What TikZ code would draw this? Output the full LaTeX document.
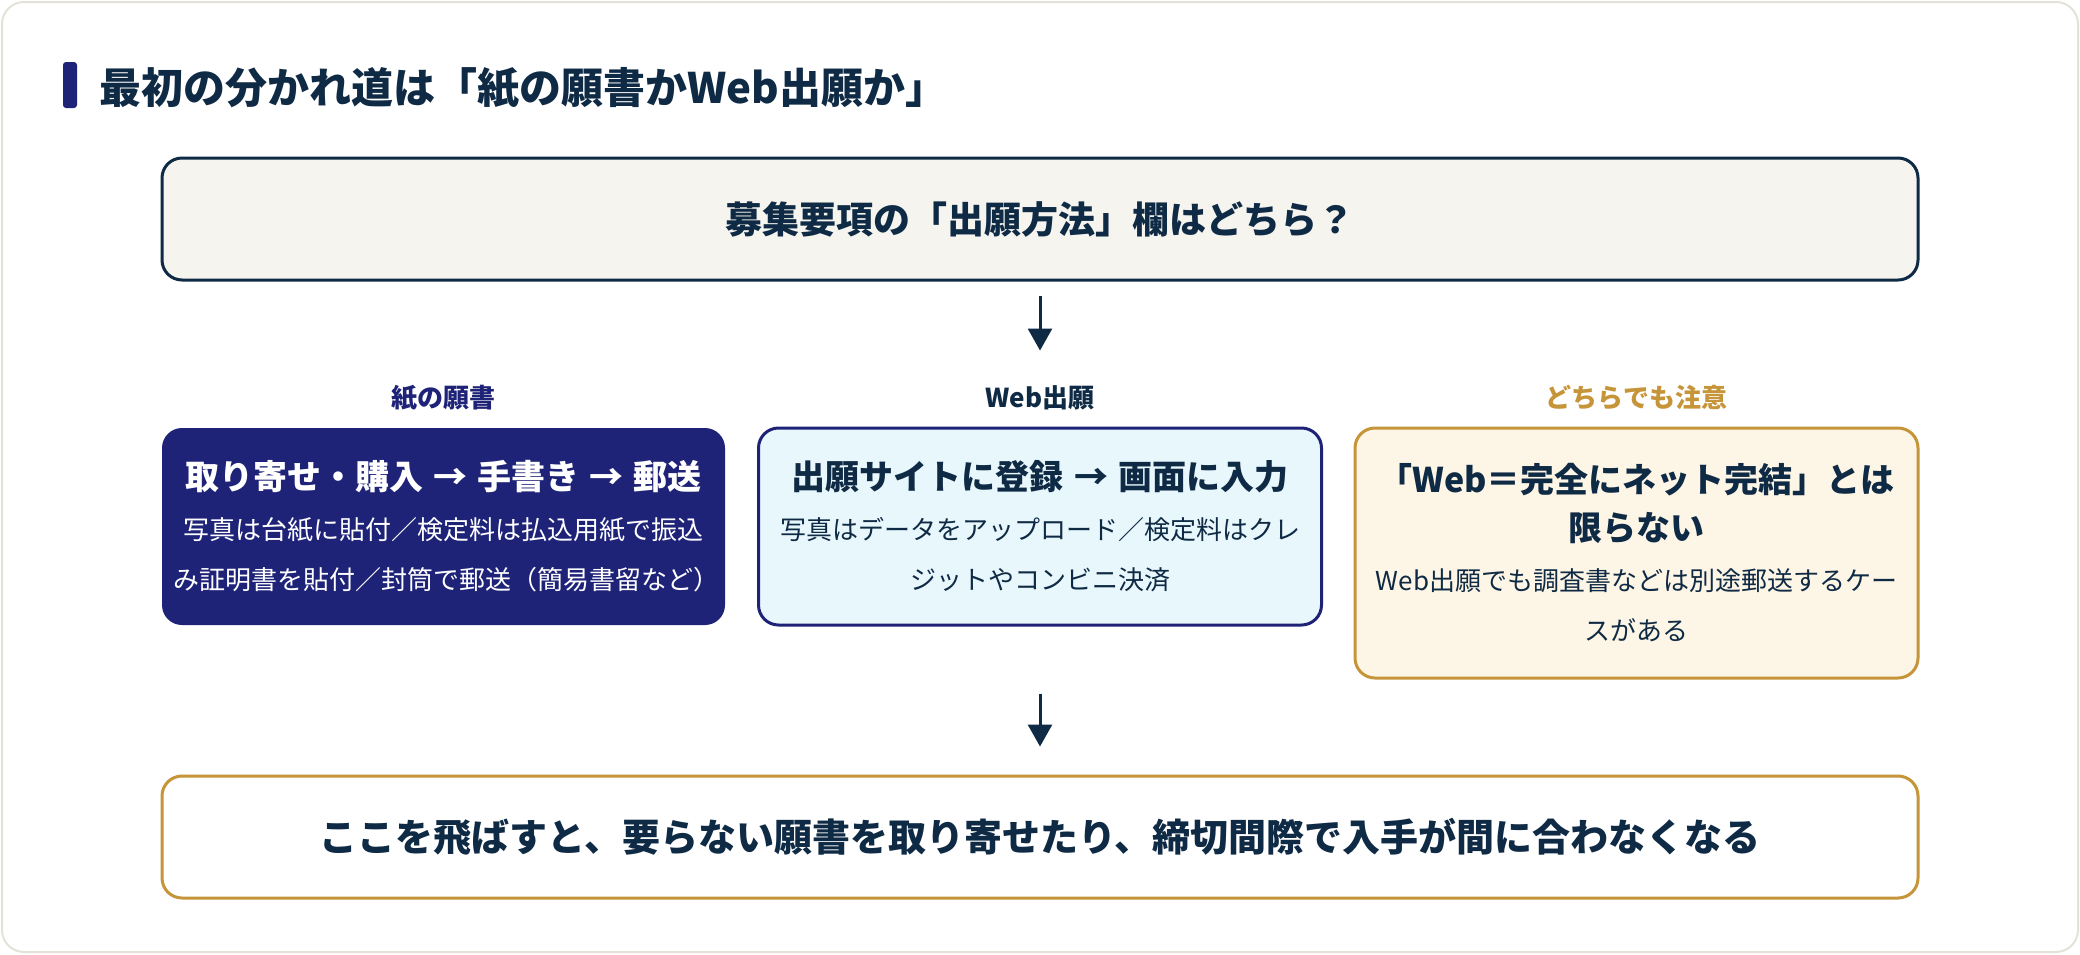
\documentclass[tikz,border=0pt]{standalone}
\usepackage{fontspec}
\setmainfont{Noto Sans CJK JP}
\usetikzlibrary{arrows.meta}
\definecolor{ink}{HTML}{0F2A44}
\definecolor{navy}{HTML}{1E2378}
\definecolor{gold}{HTML}{C6953A}
\definecolor{skyfill}{HTML}{E8F7FC}
\definecolor{creamfill}{HTML}{FDF5E5}
\definecolor{paperfill}{HTML}{F5F4EF}
\definecolor{cardline}{HTML}{E4E2D8}
\newcommand{\boxhead}{\fontsize{34}{48}\selectfont\bfseries}
\newcommand{\boxbody}{\fontsize{26}{50}\selectfont\mdseries}
\newcommand{\thento}{\hspace{0.3em}→\hspace{0.3em}}

\begin{document}
\begin{tikzpicture}[x=1pt,y=-1pt,
    box/.style={rounded corners=20pt, line width=3pt, align=center, inner sep=0pt},
    lbl/.style={inner sep=0pt, font=\fontsize{26}{30}\selectfont\bfseries},
    arr/.style={-{Triangle[length=22pt,width=24pt]}, line width=3pt, ink}]
    \useasboundingbox (0,0) rectangle (2080,954);
    \draw [cardline, line width=2pt, fill=white, rounded corners=22pt] (2,2) rectangle (2078,952);
    % heading
    \fill [navy, rounded corners=3pt] (63,62) rectangle (77,108);
    \node [anchor=west, inner sep=0pt, text=ink, font=\fontsize{42}{48}\selectfont\bfseries] (title) at (99,88) {最初の分かれ道は「紙の願書かWeb出願か」};
    \node [box, draw=ink, fill=paperfill, minimum width=1756pt, minimum height=122pt, text=ink,
        font=\fontsize{37}{44}\selectfont\bfseries] (ask) at (1040,219) {募集要項の「出願方法」欄はどちら？};
    % three columns
    \node [lbl, text=navy] (paperlbl) at (443.5,398) {紙の願書};
    \node [lbl, text=ink] (weblbl) at (1040,398) {Web出願};
    \node [lbl, text=gold] (warnlbl) at (1636.5,398) {どちらでも注意};
    \node [box, fill=navy, minimum width=563pt, minimum height=197pt, text width=540pt, text=white] (paper) at (443.5,526.5)
        {\boxhead 取り寄せ・購入\thento 手書き\thento 郵送\par
         \boxbody 写真は台紙に貼付／検定料は払込用紙で振込\\み証明書を貼付／封筒で郵送（簡易書留など）\par};
    \node [box, draw=navy, fill=skyfill, minimum width=563pt, minimum height=197pt, text width=540pt, text=ink] (web) at (1040,526.5)
        {\boxhead 出願サイトに登録\thento 画面に入力\par
         \boxbody 写真はデータをアップロード／検定料はクレ\\ジットやコンビニ決済\par};
    \node [box, draw=gold, fill=creamfill, minimum width=563pt, minimum height=250pt, text width=540pt, text=ink] (warn) at (1636.5,553)
        {\boxhead 「Web＝完全にネット完結」とは\\限らない\par
         \boxbody Web出願でも調査書などは別途郵送するケー\\スがある\par};
    \node [box, draw=gold, fill=white, minimum width=1756pt, minimum height=122pt, text=ink,
        font=\fontsize{38}{44}\selectfont\bfseries] (result) at (1040,837) {ここを飛ばすと、要らない願書を取り寄せたり、締切間際で入手が間に合わなくなる};
    \draw [arr, shorten <=14pt, shorten >=76pt] (ask.south) -- (web.north);
    \draw [arr, shorten <=67pt, shorten >=28pt] (web.south) -- (result.north);
\end{tikzpicture}
\end{document}
